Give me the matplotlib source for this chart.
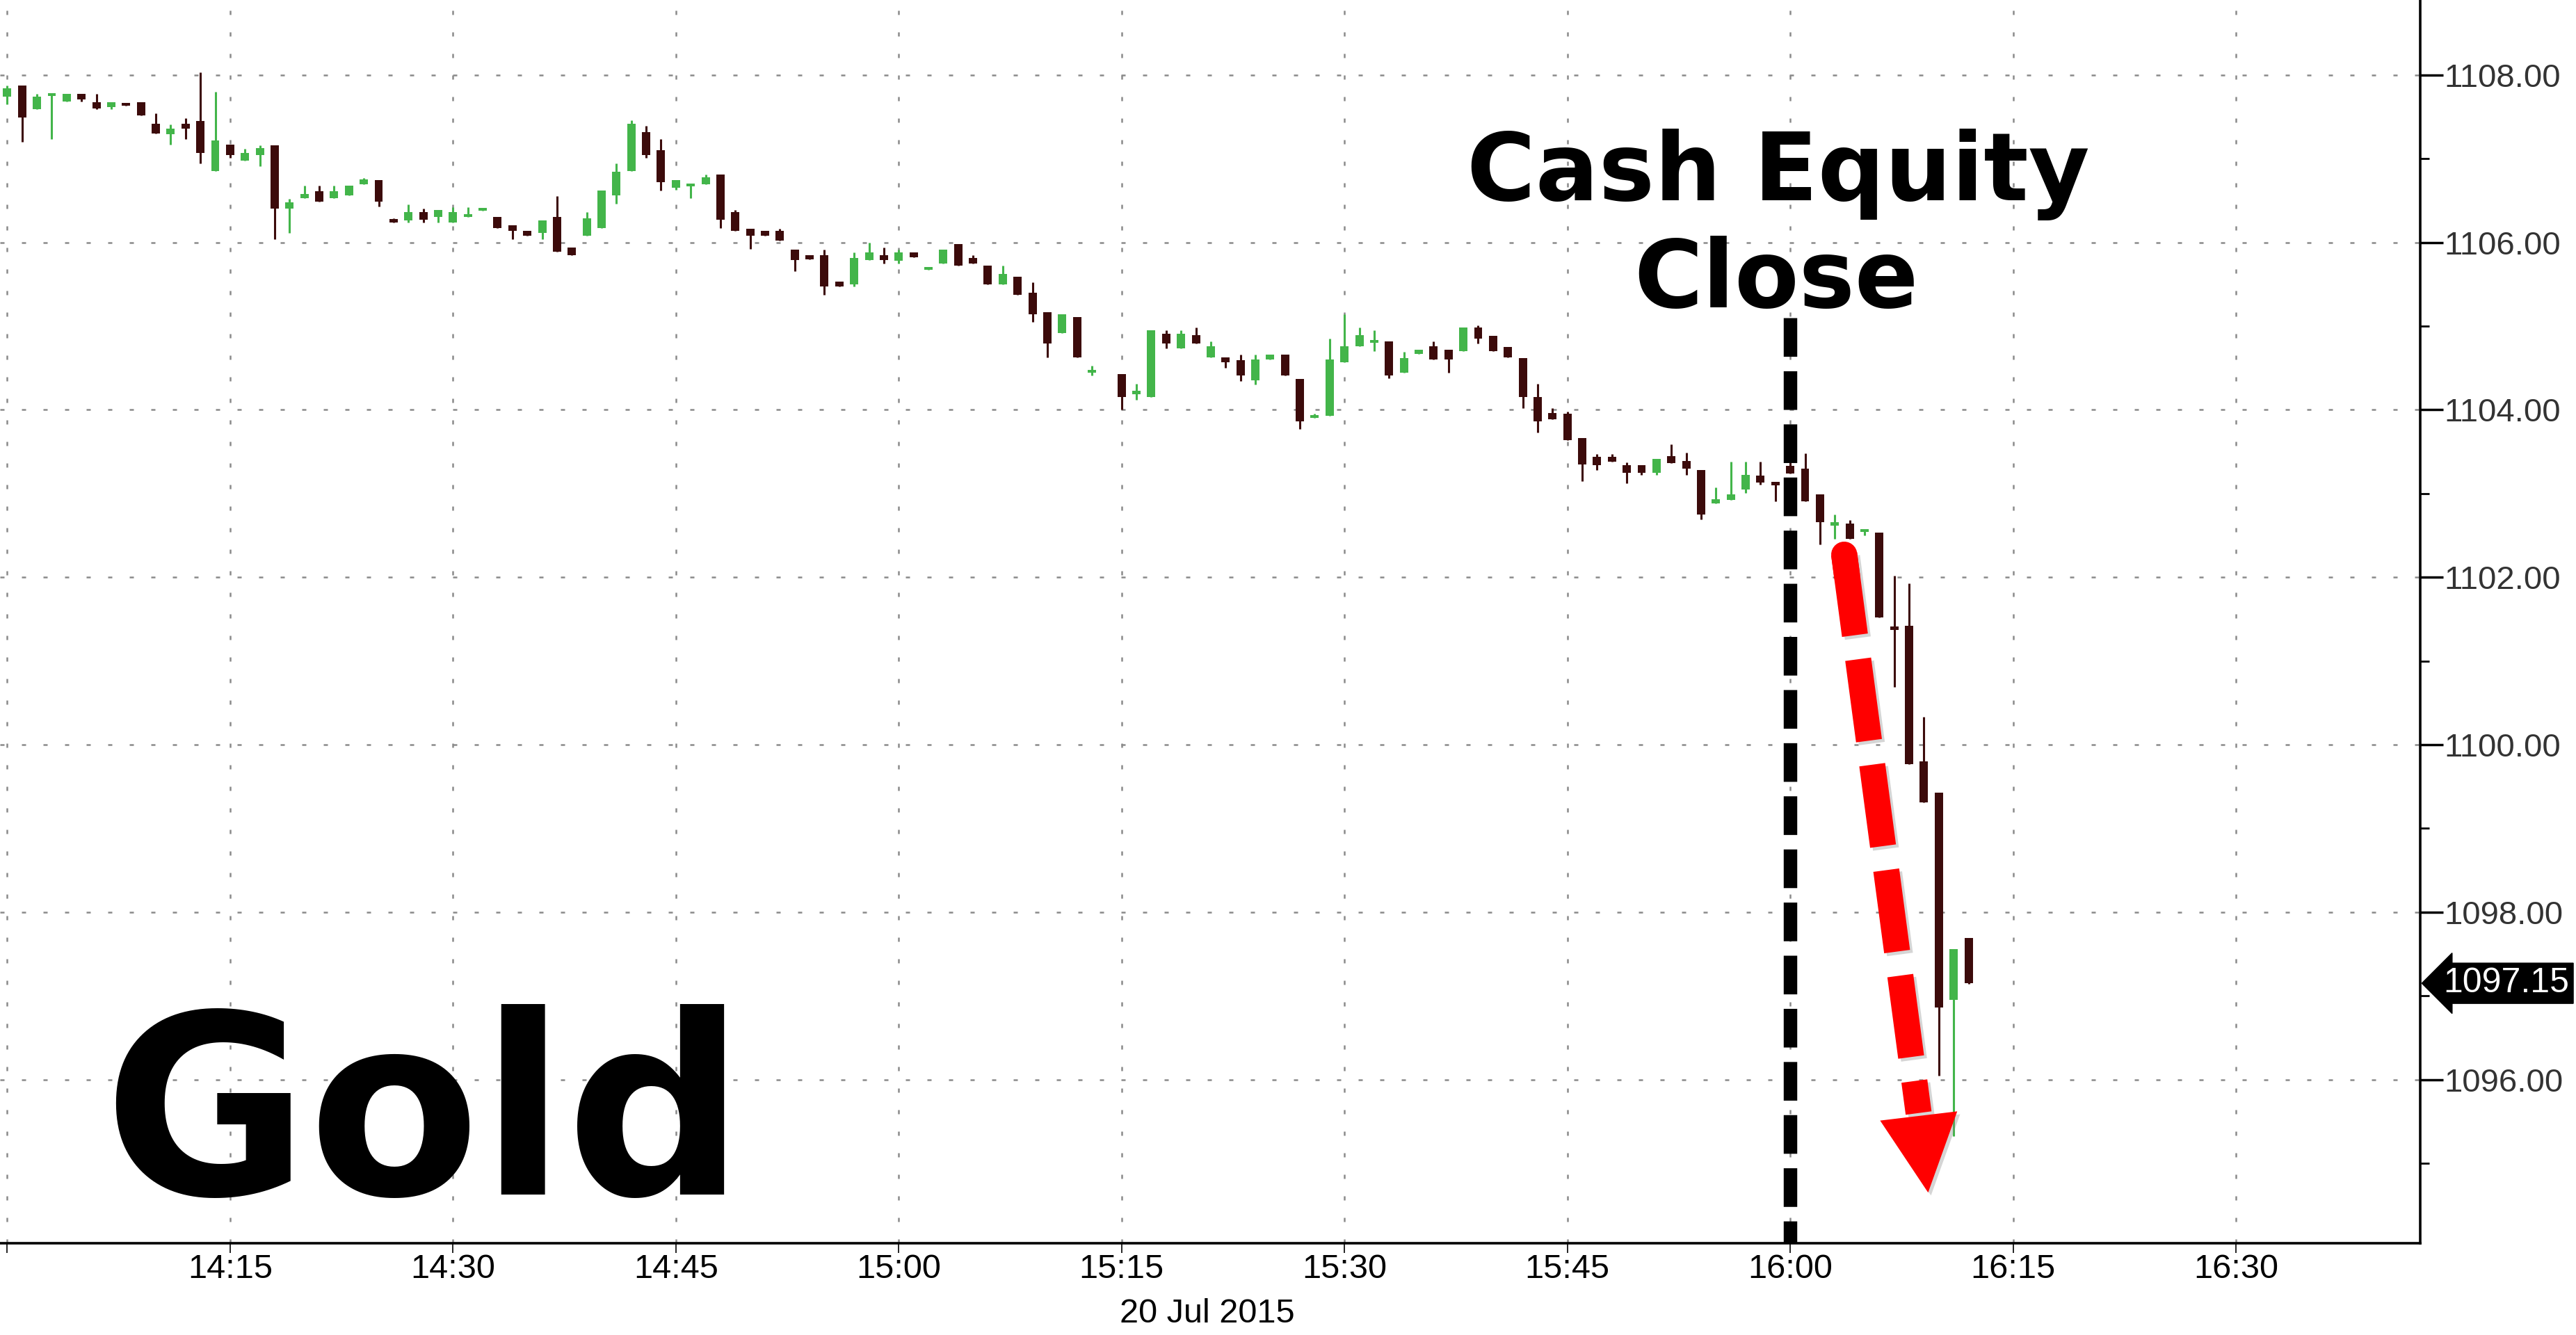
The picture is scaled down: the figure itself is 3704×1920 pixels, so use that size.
import numpy as np
import pandas as pd
import matplotlib
matplotlib.use('Agg')
import matplotlib.pyplot as plt
import matplotlib.patheffects as pe
import matplotlib.transforms as mtransforms
from matplotlib.patches import Polygon
from matplotlib.ticker import MultipleLocator

# 1-minute gold bars, 20 Jul 2015 (no print at 15:14)
bar_time = pd.date_range('2015-07-20 14:00', '2015-07-20 16:12', freq='1min')
bar_time = bar_time.drop(pd.Timestamp('2015-07-20 15:14'))

open_ = [
    1107.74, 1107.87, 1107.59, 1107.75, 1107.68, 1107.77, 1107.67, 1107.62, 1107.64, 1107.67,
    1107.42, 1107.29, 1107.42, 1107.45, 1106.85, 1107.17, 1106.98, 1107.04, 1107.16, 1106.40,
    1106.53, 1106.61, 1106.53, 1106.56, 1106.69, 1106.74, 1106.26, 1106.26, 1106.36, 1106.30,
    1106.24, 1106.30, 1106.38, 1106.30, 1106.20, 1106.14, 1106.11, 1106.30, 1105.94, 1106.08,
    1106.17, 1106.56, 1106.85, 1107.32, 1107.10, 1106.65, 1106.67, 1106.69, 1106.81, 1106.36,
    1106.16, 1106.14, 1106.14, 1105.91, 1105.85, 1105.85, 1105.53, 1105.50, 1105.79, 1105.85,
    1105.78, 1105.88, 1105.67, 1105.75, 1105.98, 1105.81, 1105.72, 1105.50, 1105.59, 1105.40,
    1105.17, 1104.92, 1105.11, 1104.44, 1104.43, 1104.19, 1104.15, 1104.91, 1104.73, 1104.89,
    1104.63, 1104.63, 1104.59, 1104.35, 1104.60, 1104.66, 1104.37, 1103.90, 1103.93, 1104.57,
    1104.76, 1104.80, 1104.82, 1104.44, 1104.67, 1104.76, 1104.72, 1104.70, 1104.98, 1104.88,
    1104.75, 1104.62, 1104.15, 1103.96, 1103.95, 1103.66, 1103.44, 1103.44, 1103.34, 1103.34,
    1103.25, 1103.45, 1103.39, 1103.28, 1102.88, 1102.92, 1103.05, 1103.21, 1103.14, 1103.33,
    1103.30, 1102.99, 1102.62, 1102.64, 1102.54, 1102.53, 1101.41, 1101.42, 1099.80, 1099.43,
    1096.95, 1097.69,
]
high = [
    1107.87, 1107.87, 1107.77, 1107.76, 1107.77, 1107.77, 1107.77, 1107.67, 1107.64, 1107.67,
    1107.54, 1107.41, 1107.48, 1108.03, 1107.80, 1107.17, 1107.12, 1107.16, 1107.16, 1106.52,
    1106.68, 1106.68, 1106.68, 1106.68, 1106.77, 1106.74, 1106.29, 1106.45, 1106.40, 1106.39,
    1106.42, 1106.42, 1106.39, 1106.30, 1106.20, 1106.14, 1106.26, 1106.55, 1105.94, 1106.36,
    1106.62, 1106.94, 1107.46, 1107.39, 1107.23, 1106.74, 1106.68, 1106.81, 1106.81, 1106.39,
    1106.16, 1106.14, 1106.16, 1105.91, 1105.85, 1105.91, 1105.53, 1105.88, 1106.00, 1105.94,
    1105.91, 1105.88, 1105.68, 1105.91, 1105.98, 1105.85, 1105.72, 1105.72, 1105.59, 1105.52,
    1105.17, 1105.14, 1105.11, 1104.53, 1104.43, 1104.31, 1104.95, 1104.95, 1104.95, 1104.98,
    1104.82, 1104.63, 1104.66, 1104.66, 1104.66, 1104.66, 1104.37, 1103.95, 1104.85, 1105.14,
    1104.98, 1104.95, 1104.82, 1104.69, 1104.72, 1104.82, 1104.72, 1104.98, 1105.01, 1104.88,
    1104.75, 1104.62, 1104.31, 1104.02, 1103.98, 1103.66, 1103.47, 1103.47, 1103.37, 1103.34,
    1103.41, 1103.59, 1103.49, 1103.28, 1103.07, 1103.38, 1103.38, 1103.38, 1103.14, 1103.40,
    1103.48, 1102.99, 1102.75, 1102.68, 1102.57, 1102.53, 1102.02, 1101.93, 1100.33, 1099.43,
    1097.56, 1097.69,
]
low = [
    1107.65, 1107.20, 1107.59, 1107.23, 1107.68, 1107.68, 1107.59, 1107.59, 1107.63, 1107.52,
    1107.30, 1107.17, 1107.23, 1106.94, 1106.85, 1107.01, 1106.98, 1106.91, 1106.04, 1106.11,
    1106.53, 1106.49, 1106.53, 1106.56, 1106.69, 1106.43, 1106.24, 1106.24, 1106.24, 1106.24,
    1106.24, 1106.30, 1106.38, 1106.17, 1106.04, 1106.08, 1106.04, 1105.89, 1105.85, 1106.08,
    1106.17, 1106.46, 1106.85, 1107.01, 1106.62, 1106.63, 1106.53, 1106.69, 1106.17, 1106.14,
    1105.92, 1106.08, 1106.02, 1105.66, 1105.80, 1105.37, 1105.47, 1105.47, 1105.79, 1105.75,
    1105.75, 1105.82, 1105.67, 1105.75, 1105.72, 1105.75, 1105.50, 1105.50, 1105.37, 1105.05,
    1104.63, 1104.92, 1104.63, 1104.41, 1104.00, 1104.12, 1104.15, 1104.73, 1104.73, 1104.79,
    1104.63, 1104.50, 1104.34, 1104.30, 1104.60, 1104.41, 1103.77, 1103.90, 1103.93, 1104.57,
    1104.76, 1104.70, 1104.38, 1104.44, 1104.67, 1104.60, 1104.44, 1104.70, 1104.79, 1104.70,
    1104.63, 1104.02, 1103.73, 1103.89, 1103.64, 1103.15, 1103.28, 1103.38, 1103.12, 1103.22,
    1103.22, 1103.36, 1103.22, 1102.69, 1102.88, 1102.92, 1103.01, 1103.11, 1102.91, 1103.24,
    1102.91, 1102.39, 1102.46, 1102.46, 1102.50, 1101.52, 1100.69, 1099.77, 1099.31, 1096.05,
    1095.32, 1097.14,
]
close = [
    1107.84, 1107.49, 1107.74, 1107.76, 1107.77, 1107.71, 1107.60, 1107.67, 1107.63, 1107.52,
    1107.30, 1107.36, 1107.36, 1107.07, 1107.22, 1107.04, 1107.07, 1107.13, 1106.40, 1106.48,
    1106.58, 1106.49, 1106.61, 1106.68, 1106.75, 1106.49, 1106.24, 1106.36, 1106.27, 1106.39,
    1106.36, 1106.33, 1106.39, 1106.17, 1106.14, 1106.08, 1106.26, 1105.89, 1105.85, 1106.29,
    1106.62, 1106.84, 1107.42, 1107.04, 1106.72, 1106.74, 1106.68, 1106.78, 1106.27, 1106.14,
    1106.08, 1106.08, 1106.02, 1105.79, 1105.80, 1105.47, 1105.47, 1105.81, 1105.88, 1105.79,
    1105.88, 1105.82, 1105.68, 1105.91, 1105.72, 1105.75, 1105.50, 1105.62, 1105.37, 1105.14,
    1104.79, 1105.14, 1104.63, 1104.46, 1104.15, 1104.21, 1104.95, 1104.79, 1104.91, 1104.79,
    1104.76, 1104.57, 1104.41, 1104.60, 1104.66, 1104.41, 1103.86, 1103.92, 1104.60, 1104.76,
    1104.89, 1104.82, 1104.41, 1104.62, 1104.72, 1104.60, 1104.60, 1104.98, 1104.85, 1104.70,
    1104.63, 1104.15, 1103.86, 1103.89, 1103.64, 1103.35, 1103.34, 1103.38, 1103.25, 1103.25,
    1103.41, 1103.36, 1103.30, 1102.75, 1102.93, 1102.99, 1103.22, 1103.13, 1103.10, 1103.24,
    1102.91, 1102.66, 1102.66, 1102.46, 1102.57, 1101.52, 1101.37, 1099.77, 1099.31, 1096.86,
    1097.56, 1097.15,
]

tick_labels = ['', '14:15', '14:30', '14:45', '15:00', '15:15',
               '15:30', '15:45', '16:00', '16:15', '16:30']
last_price = 1097.15
equity_close = '16:00'

UP = '#43b54a'
DOWN = '#3c0b0b'
RED = '#ff0000'

plt.rcParams['font.family'] = ['Liberation Sans', 'DejaVu Sans']

o = np.array(open_)
h = np.array(high)
l = np.array(low)
c = np.array(close)
t0 = bar_time[0]
x = (bar_time - t0).total_seconds().values / 60.0

W, H = 3705, 1920
fig = plt.figure(figsize=(W / 100, H / 100), dpi=100)
fig.patch.set_facecolor('white')
ax = fig.add_axes([0, 1 - 1788 / H, 3480 / W, 1788 / H])
ax.set_xlim(-0.487, 162.4)
ax.set_ylim(1094.045, 1108.895)

# candles
colors = np.where(c >= o, UP, DOWN)
ax.vlines(x, l, h, colors=colors, linewidth=2.2, zorder=3)
body_lo = np.minimum(o, c)
body_h = np.maximum(np.abs(c - o), 0.035)
ax.bar(x, body_h, bottom=body_lo, width=0.56, color=colors, linewidth=0, zorder=3)

# axes styling
for s in ['top', 'left']:
    ax.spines[s].set_visible(False)
for s in ['right', 'bottom']:
    ax.spines[s].set_linewidth(2.6)
    ax.spines[s].set_color('black')

ax.yaxis.tick_right()
ax.yaxis.set_major_locator(MultipleLocator(2))
ax.yaxis.set_minor_locator(MultipleLocator(1))
ax.yaxis.set_major_formatter('{x:.2f}')
ax.tick_params(axis='y', which='major', length=24, width=2.5, pad=1,
               labelsize=34, labelcolor='#333333')
ax.tick_params(axis='y', which='minor', length=9, width=2)

ax.set_xticks(np.arange(len(tick_labels)) * 15)
ax.set_xticklabels(tick_labels)
ax.tick_params(axis='x', length=10, width=1.2, pad=1, labelsize=35)

ax.grid(True, which='major', color='#8a8a8a', linewidth=1.8,
        linestyle=(0, (2.4, 10)), zorder=0)

fig.text(1736 / W, 1 - 1890 / H, '20 Jul 2015', fontsize=35,
         ha='center', va='center')

# cash equity close marker
xc = (pd.Timestamp('2015-07-20 ' + equity_close) - t0).total_seconds() / 60.0
ax.plot([xc, xc], [1105.1, 1094.0], color='black', linewidth=14,
        linestyle=(0, (2.86, 1.07)), dash_capstyle='butt', zorder=5)

ax.text(0.7348, 0.839, 'Cash Equity', transform=ax.transAxes,
        family='DejaVu Sans', fontweight='bold', fontsize=97,
        ha='center', va='baseline', zorder=7)
ax.text(0.7338, 0.7528, 'Close', transform=ax.transAxes,
        family='DejaVu Sans', fontweight='bold', fontsize=97,
        ha='center', va='baseline', zorder=7)

ax.text(0.0425, 0.039, 'Gold', transform=ax.transAxes,
        family='DejaVu Sans', fontweight='bold', fontsize=259,
        ha='left', va='baseline', zorder=7)

# red dashed arrow (shaft from 16:03 area down to the head)
shadow_line = [pe.SimpleLineShadow(offset=(3, -3), shadow_color='#888888', alpha=0.35),
               pe.Normal()]
shaft_t = [123.52, 128.64]
shaft_p = [1102.42, 1095.60]
slope = (shaft_t[1] - shaft_t[0]) / (shaft_p[1] - shaft_p[0])
p_start = 1102.28
ax.plot([shaft_t[0] + slope * (p_start - shaft_p[0]), shaft_t[1]], [p_start, shaft_p[1]],
        color=RED, linewidth=27, linestyle=(0, (3.15, 0.93)), dash_capstyle='butt',
        zorder=6, path_effects=shadow_line)
# rounded top of the first dash
p_cap = [1102.27, 1102.02]
ax.plot([shaft_t[0] + slope * (p - shaft_p[0]) for p in p_cap], p_cap,
        color=RED, linewidth=27, solid_capstyle='round', zorder=6)
head = Polygon([(126.05, 1095.51), (131.24, 1095.62), (129.28, 1094.65)],
               closed=True, facecolor=RED, edgecolor='none', zorder=6,
               path_effects=[pe.SimplePatchShadow(offset=(3, -3), shadow_rgbFace='#888888',
                                                  alpha=0.35), pe.Normal()])
ax.add_patch(head)

# last price tag
trans = mtransforms.blended_transform_factory(ax.transAxes, ax.transData)
ax.text(1.0095, last_price, f'{last_price:.2f}', transform=trans,
        ha='left', va='center', color='white', fontsize=36, clip_on=False,
        bbox=dict(boxstyle='larrow,pad=0.12', facecolor='black', edgecolor='black'),
        zorder=8)

fig.savefig('out.png', dpi=100, facecolor='white')
